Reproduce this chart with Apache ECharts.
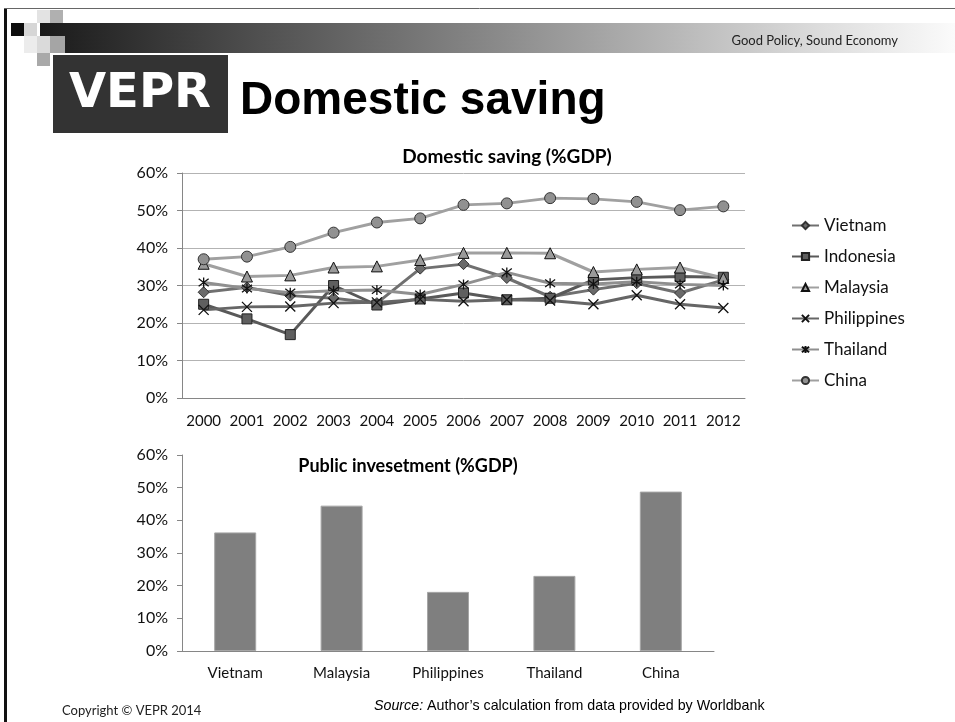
<!DOCTYPE html>
<html>
<head>
<meta charset="utf-8">
<script src="https://cdn.jsdelivr.net/npm/echarts@6/dist/echarts.min.js"></script>
<style>
html,body{margin:0;padding:0;background:#fff;}
#main{width:955px;height:722px;}
</style>
</head>
<body>
<div id="main"></div>
<script>
// ---- data ----
var years = ['2000','2001','2002','2003','2004','2005','2006','2007','2008','2009','2010','2011','2012'];
var vietnam     = [28.2, 29.5, 27.3, 26.6, 25.3, 34.5, 35.7, 32.0, 27.0, 28.9, 30.6, 28.0, 31.5];
var indonesia   = [25.0, 21.1, 16.9, 30.0, 24.8, 26.4, 28.0, 26.2, 26.6, 31.5, 32.1, 32.4, 32.2];
var malaysia    = [35.8, 32.4, 32.7, 34.8, 35.1, 36.8, 38.7, 38.7, 38.6, 33.6, 34.3, 34.8, 32.0];
var philippines = [23.5, 24.3, 24.4, 25.3, 25.5, 26.3, 25.8, 26.2, 26.0, 25.0, 27.4, 25.0, 24.0];
var thailand    = [30.8, 29.2, 28.1, 28.6, 28.8, 27.6, 30.3, 33.5, 30.6, 30.4, 31.0, 30.3, 30.0];
var china       = [37.0, 37.7, 40.3, 44.1, 46.8, 47.9, 51.5, 51.9, 53.3, 53.1, 52.3, 50.1, 51.1];

var barCountries = ['Vietnam','Malaysia','Philippines','Thailand','China'];
var publicInvestment = [36.3, 44.5, 18.1, 23.0, 48.8];

var seriesNames = ['Vietnam','Indonesia','Malaysia','Philippines','Thailand','China'];
var yTicksMax = 60, yTicksStep = 10;

// ---- chart ----
var chart = echarts.init(document.getElementById('main'), null, {renderer:'canvas'});
var FONT = 'Lato, "Open Sans", sans-serif';
var axisGray = '#868686';

function lineSeries(name, data, lineColor, symbol, size, fill, border, bw){
  return {
    name: name, type: 'line', xAxisIndex: 0, yAxisIndex: 0,
    data: data, symbol: symbol, symbolSize: size,
    lineStyle: {color: lineColor, width: 3},
    itemStyle: {color: fill, borderColor: border, borderWidth: bw},
    emphasis: {disabled: true},
    animation: false
  };
}
var X_PATH = 'path://M0,0L10,10M10,0L0,10';
var STAR_PATH = 'path://M0,0L10,10M10,0L0,10M5,-1.5L5,11.5';

var option = {
  animation: false,
  backgroundColor: '#ffffff',
  textStyle: {fontFamily: FONT},
  grid: [
    {left: 182, top: 173, width: 563, height: 225},
    {left: 182, top: 455, width: 532, height: 196}
  ],
  legend: {
    orient: 'vertical', left: 786, top: 212, itemGap: 14,
    itemWidth: 27, itemHeight: 9,
    textStyle: {fontFamily: FONT, fontSize: 17, color: '#111'},
    data: seriesNames
  },
  xAxis: [
    {gridIndex: 0, type: 'category', data: years, boundaryGap: true,
     axisLine: {lineStyle: {color: axisGray}},
     axisTick: {lineStyle: {color: axisGray}, length: 5},
     axisLabel: {fontFamily: FONT, fontSize: 15, color: '#111', margin: 16, interval: 0}},
    {gridIndex: 1, type: 'category', data: barCountries, boundaryGap: true,
     axisLine: {lineStyle: {color: axisGray}},
     axisTick: {lineStyle: {color: axisGray}, length: 5},
     axisLabel: {fontFamily: FONT, fontSize: 15, color: '#111', margin: 15, interval: 0}}
  ],
  yAxis: [
    {gridIndex: 0, type: 'value', min: 0, max: yTicksMax, interval: yTicksStep,
     axisLine: {show: true, lineStyle: {color: axisGray}},
     axisTick: {show: true, length: 5, lineStyle: {color: axisGray}},
     splitLine: {lineStyle: {color: '#b3b3b3', width: 1}},
     axisLabel: {formatter: '{value}%', fontFamily: FONT, fontSize: 16, color: '#111', margin: 14}},
    {gridIndex: 1, type: 'value', min: 0, max: yTicksMax, interval: yTicksStep,
     axisLine: {show: true, lineStyle: {color: axisGray}},
     axisTick: {show: true, length: 5, lineStyle: {color: axisGray}},
     splitLine: {show: false},
     axisLabel: {formatter: '{value}%', fontFamily: FONT, fontSize: 16, color: '#111', margin: 14}}
  ],
  series: [
    lineSeries('Vietnam', vietnam, '#707070', 'diamond', 11, '#6a6a6a', '#333', 1),
    lineSeries('Indonesia', indonesia, '#595959', 'rect', 10, '#5f5f5f', '#222', 1),
    lineSeries('Malaysia', malaysia, '#a0a0a0', 'triangle', 11, '#9a9a9a', '#111', 1),
    lineSeries('Philippines', philippines, '#666666', X_PATH, 10, 'none', '#111', 1.3),
    lineSeries('Thailand', thailand, '#8f8f8f', STAR_PATH, 10, 'none', '#111', 1.3),
    lineSeries('China', china, '#a0a0a0', 'circle', 11, '#919191', '#333', 1),
    {
      name: 'Public investment', type: 'bar', xAxisIndex: 1, yAxisIndex: 1,
      data: publicInvestment, barWidth: 42,
      itemStyle: {color: '#7f7f7f', borderColor: '#a6a6a6', borderWidth: 1},
      emphasis: {disabled: true}, animation: false
    }
  ],
  graphic: [
    // frame
    {type: 'rect', shape: {x: 4, y: 8, width: 3, height: 714}, style: {fill: '#111'}, silent: true},
    {type: 'line', shape: {x1: 4, y1: 8.5, x2: 955, y2: 8.5}, style: {stroke: '#666', lineWidth: 1}, silent: true},
    // gradient band
    {type: 'rect', shape: {x: 40, y: 23, width: 915, height: 30},
     style: {fill: new echarts.graphic.LinearGradient(0, 0, 1, 0, [
       {offset: 0, color: '#1a1a1a'}, {offset: 0.5, color: '#8a8a8a'}, {offset: 0.85, color: '#dcdcdc'}, {offset: 1, color: '#fbfbfb'}])}, silent: true},
    // decorative squares
    {type: 'rect', shape: {x: 37, y: 10, width: 13, height: 13}, style: {fill: '#e3e3e3'}, silent: true},
    {type: 'rect', shape: {x: 50, y: 10, width: 13, height: 13}, style: {fill: '#b0b0b0'}, silent: true},
    {type: 'rect', shape: {x: 11, y: 23, width: 13, height: 13}, style: {fill: '#0d0d0d'}, silent: true},
    {type: 'rect', shape: {x: 24, y: 23, width: 13, height: 13}, style: {fill: '#d6d6d6'}, silent: true},
    {type: 'rect', shape: {x: 24, y: 36, width: 13, height: 17}, style: {fill: '#ececec'}, silent: true},
    {type: 'rect', shape: {x: 37, y: 36, width: 13, height: 17}, style: {fill: '#dadada'}, silent: true},
    {type: 'rect', shape: {x: 50, y: 36, width: 15, height: 17}, style: {fill: '#a5a5a5'}, silent: true},
    {type: 'rect', shape: {x: 37, y: 53, width: 13, height: 13}, style: {fill: '#a9a9a9'}, silent: true},
    {type: 'text', style: {text: 'Good Policy, Sound Economy', x: 898, y: 41, align: 'right', verticalAlign: 'middle',
      font: '13px Lato, sans-serif', fill: '#222'}, silent: true},
    // logo
    {type: 'rect', shape: {x: 53, y: 55, width: 175, height: 78}, style: {fill: '#333333'}, silent: true},
    {type: 'text', style: {text: 'VEPR', x: 140, y: 95, align: 'center', verticalAlign: 'middle',
      font: 'bold 48px "DejaVu Sans", sans-serif', fill: '#ffffff'}, silent: true},
    {type: 'text', style: {text: 'Domestic saving', x: 240, y: 101, align: 'left', verticalAlign: 'middle',
      font: 'bold 46px "Liberation Sans", Arial, sans-serif', fill: '#000'}, silent: true},
    // chart titles
    {type: 'text', style: {text: 'Domestic saving (%GDP)', x: 507, y: 157, align: 'center', verticalAlign: 'middle',
      font: 'bold 19px Lato, sans-serif', fill: '#000'}, silent: true},
    {type: 'text', style: {text: 'Public invesetment (%GDP)', x: 408, y: 466, align: 'center', verticalAlign: 'middle',
      font: 'bold 18px Lato, sans-serif', fill: '#000'}, silent: true},
    // footer
    {type: 'text', style: {text: 'Copyright © VEPR 2014', x: 62, y: 711, align: 'left', verticalAlign: 'middle',
      font: '13px Lato, sans-serif', fill: '#222'}, silent: true},
    {type: 'text', x: 374, y: 706, scaleX: 0.95, silent: true,
     style: {text: '{i|Source:} Author’s calculation from data provided by Worldbank', x: 0, y: 0,
       align: 'left', verticalAlign: 'middle', font: '15px "Liberation Sans", Arial, sans-serif', fill: '#000',
       rich: {i: {fontStyle: 'italic', fontSize: 15, fontFamily: '"Liberation Sans", Arial, sans-serif', fill: '#000'}}}}
  ]
};
chart.setOption(option);
</script>
</body>
</html>
